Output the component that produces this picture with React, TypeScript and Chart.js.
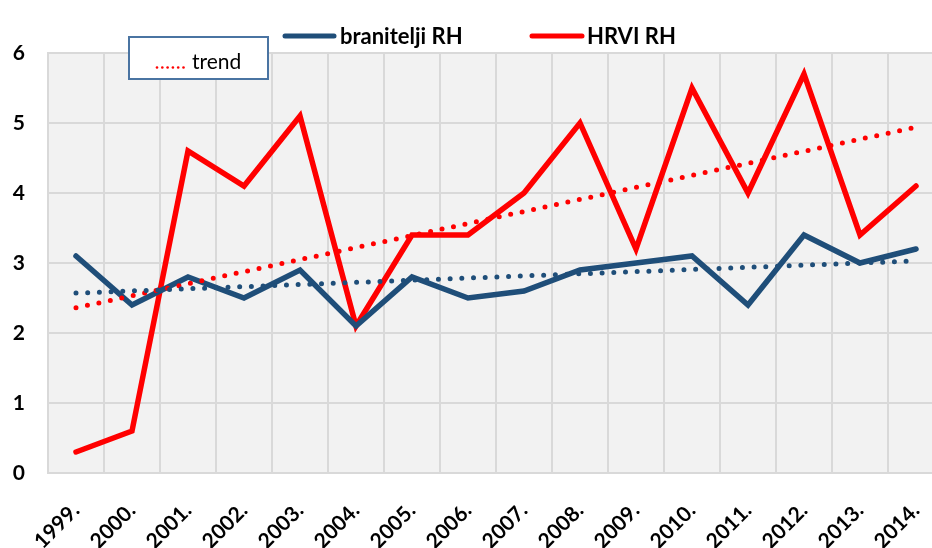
import React, { useEffect, useRef } from "react";
import { Chart, registerables } from "chart.js";
Chart.register(...registerables);

const years = ["1999.", "2000.", "2001.", "2002.", "2003.", "2004.", "2005.", "2006.", "2007.", "2008.", "2009.", "2010.", "2011.", "2012.", "2013.", "2014."];
const branitelji = [3.1, 2.4, 2.8, 2.5, 2.9, 2.1, 2.8, 2.5, 2.6, 2.9, 3.0, 3.1, 2.4, 3.4, 3.0, 3.2];
const hrvi = [0.3, 0.6, 4.6, 4.1, 5.1, 2.1, 3.4, 3.4, 4.0, 5.0, 3.2, 5.5, 4.0, 5.7, 3.4, 4.1];
// trend endpoints (first and last year)
const branTrendEnds = [2.57, 3.03];
const hrviTrendEnds = [2.36, 4.94];
const yTicks = [0, 1, 2, 3, 4, 5, 6];

const BLUE = "#1f4e79";
const RED = "#ff0000";
const FONT = "Lato, 'Open Sans', sans-serif";

function endsToSeries(ends: number[]) {
  return years.map((_, i) => (i === 0 ? ends[0] : i === years.length - 1 ? ends[1] : null));
}

const decorPlugin = {
  id: "decor",
  beforeDraw(chart: any) {
    const { ctx, chartArea } = chart;
    ctx.save();
    ctx.fillStyle = "#f2f2f2";
    ctx.fillRect(chartArea.left, chartArea.top, chartArea.right - chartArea.left, chartArea.bottom - chartArea.top);
    ctx.restore();
  },
  afterDatasetsDraw(chart: any) {
    const { ctx } = chart;
    ctx.save();
    // legend
    ctx.lineCap = "round";
    ctx.lineWidth = 5;
    ctx.strokeStyle = BLUE;
    ctx.beginPath();
    ctx.moveTo(285, 36);
    ctx.lineTo(334, 36);
    ctx.stroke();
    ctx.strokeStyle = RED;
    ctx.beginPath();
    ctx.moveTo(532, 36);
    ctx.lineTo(582, 36);
    ctx.stroke();
    ctx.fillStyle = "#000";
    ctx.font = `bold 22px ${FONT}`;
    ctx.textBaseline = "middle";
    ctx.textAlign = "left";
    ctx.fillText("branitelji RH", 340, 37);
    ctx.fillText("HRVI RH", 587, 37);
    // trend box
    ctx.fillStyle = "#ffffff";
    ctx.fillRect(129, 37, 139, 42);
    ctx.strokeStyle = "#4a74a2";
    ctx.lineWidth = 2;
    ctx.strokeRect(129, 37, 139, 42);
    ctx.fillStyle = RED;
    for (let i = 0; i < 6; i++) {
      ctx.beginPath();
      ctx.arc(157 + i * 5.3, 67.5, 1.3, 0, Math.PI * 2);
      ctx.fill();
    }
    ctx.fillStyle = "#000";
    ctx.font = `21px ${FONT}`;
    ctx.fillText("trend", 192, 62);
    ctx.restore();
  },
};

export default function App() {
  const ref = useRef<HTMLCanvasElement>(null);
  useEffect(() => {
    if (!ref.current) return;
    const chart = new Chart(ref.current, {
      type: "line",
      data: {
        labels: years,
        datasets: [
          {
            label: "trend branitelji",
            data: endsToSeries(branTrendEnds),
            borderColor: BLUE,
            borderWidth: 5,
            borderDash: [0, 11.7],
            borderCapStyle: "round",
            pointRadius: 0,
            spanGaps: true,
            fill: false,
          },
          {
            label: "trend HRVI",
            data: endsToSeries(hrviTrendEnds),
            borderColor: RED,
            borderWidth: 5,
            borderDash: [0, 11.7],
            borderCapStyle: "round",
            pointRadius: 0,
            spanGaps: true,
            fill: false,
          },
          {
            label: "branitelji RH",
            data: branitelji,
            borderColor: BLUE,
            borderWidth: 5.5,
            pointRadius: 0,
            borderJoinStyle: "miter",
            borderCapStyle: "round",
            tension: 0,
          },
          {
            label: "HRVI RH",
            data: hrvi,
            borderColor: RED,
            borderWidth: 5.5,
            pointRadius: 0,
            borderJoinStyle: "miter",
            borderCapStyle: "round",
            tension: 0,
          },
        ],
      },
      options: {
        animation: false,
        responsive: false,
        maintainAspectRatio: false,
        layout: { padding: { top: 53, right: 16, left: 0, bottom: 0 } },
        plugins: { legend: { display: false }, tooltip: { enabled: false } },
        scales: {
          x: {
            offset: true,
            grid: { offset: true, color: "#d9d9d9", lineWidth: 2, drawTicks: false },
            border: { color: "#d9d9d9", width: 2 },
            ticks: {
              minRotation: 45,
              maxRotation: 45,
              autoSkip: false,
              color: "#000",
              font: { family: FONT, size: 21, weight: "bold" },
              padding: 25,
            },
            afterFit: (s: any) => {
              s.height = 75;
            },
          },
          y: {
            min: 0,
            max: 6,
            afterBuildTicks: (s: any) => {
              s.ticks = yTicks.map((v) => ({ value: v }));
            },
            grid: { color: "#d9d9d9", lineWidth: 2, drawTicks: false },
            border: { color: "#d9d9d9", width: 2 },
            ticks: {
              color: "#000",
              font: { family: FONT, size: 21, weight: "bold" },
              padding: 23,
            },
            afterFit: (s: any) => {
              s.width = 48;
            },
          },
        },
      },
      plugins: [decorPlugin],
    });
    return () => chart.destroy();
  }, []);
  return (
    <div style={{ position: "absolute", left: 0, top: 0, width: 932, height: 548, overflow: "hidden", background: "#fff" }}>
      <canvas ref={ref} width={960} height={548} style={{ width: 960, height: 548, display: "block" }} />
    </div>
  );
}
